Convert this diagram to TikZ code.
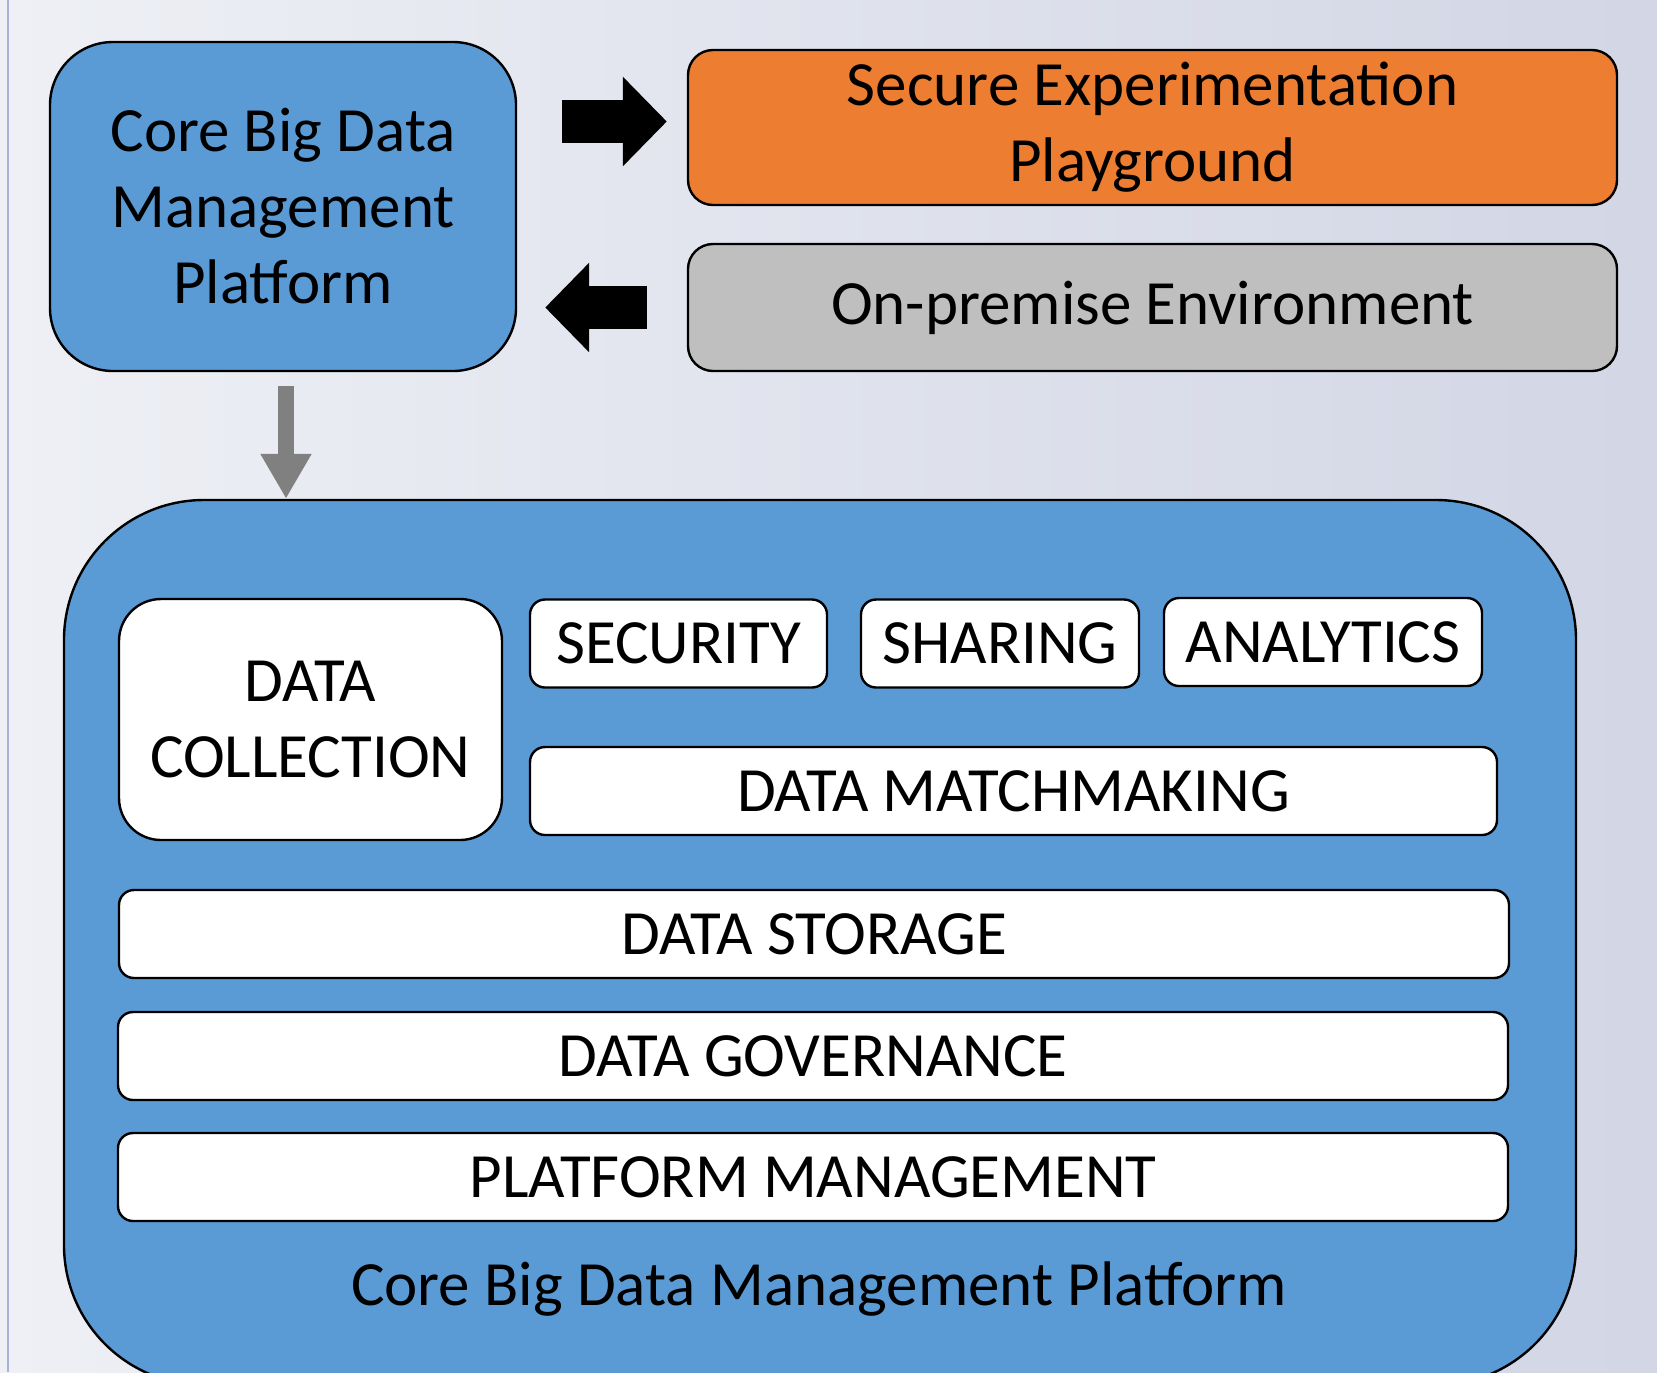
\documentclass[tikz,border=0pt]{standalone}
\usepackage{fontspec}
\setmainfont{Carlito}
\usetikzlibrary{arrows.meta,positioning}

\definecolor{coreblue}{HTML}{5B9BD5}
\definecolor{playorange}{HTML}{ED7D31}
\definecolor{premgray}{HTML}{BFBFBF}
\definecolor{arrgray}{HTML}{808080}
\definecolor{bgleft}{HTML}{EEF0F5}
\definecolor{bgright}{HTML}{D2D6E5}
\definecolor{edgeline}{HTML}{A9B3D8}

\begin{document}
\begin{tikzpicture}[x=0.5pt,y=-0.5pt,semithick,
    every node/.style={font=\fontsize{31.5}{38}\selectfont,align=center,inner sep=0pt},
    box/.style={draw=black,line width=1.2pt,rectangle},
    layer/.style={box,fill=white,rounded corners=7.5pt,minimum height=44pt},
    blockarr/.style={line width=21.5pt,-{Triangle[length=22pt,width=43.5pt]}},
    downarr/.style={line width=8pt,arrgray,-{Triangle[length=22.5pt,width=24pt]}}]

    % background
    \useasboundingbox (0,0) rectangle (1657,1372);
    \clip (0,0) rectangle (1657,1372);
    \shade[left color=bgleft,right color=bgright] (0,0) rectangle (1657,1372);
    \draw[edgeline,line width=0.8pt] (8,0) -- (8,1372);

    % top row
    \node[box,fill=coreblue,rounded corners=31.5pt,minimum width=233pt,minimum height=164.5pt]
        (core) at (283,206.5) {Core Big Data\\Management\\Platform};
    \node[box,fill=playorange,rounded corners=12.5pt,minimum width=464.5pt,minimum height=77.5pt]
        (play) at (1152.5,127.5) {Secure Experimentation\\Playground};
    \node[box,fill=premgray,rounded corners=12.5pt,minimum width=464.5pt,minimum height=63.5pt]
        (prem) at (1152.5,307.5) {On-premise Environment};

    % platform
    \node[box,fill=coreblue,rounded corners=70pt,minimum width=756pt,minimum height=442.5pt]
        (plat) at (820,942.5) {};
    \node[box,fill=white,rounded corners=21pt,minimum width=191.5pt,minimum height=120.5pt]
        (coll) at (310.5,719.5) {DATA\\COLLECTION};
    \node[layer,minimum width=148.5pt] (sec)  at (678.5,643.5) {SECURITY};
    \node[layer,minimum width=139pt]   (shar) at (1000,643.5)  {SHARING};
    \node[layer,minimum width=159pt]   (ana)  at (1323,642)    {ANALYTICS};
    \node[layer,minimum width=483.5pt] (match) at (1013.5,791) {DATA MATCHMAKING};
    \node[layer,minimum width=695pt]   (stor) at (814,934)     {DATA STORAGE};
    \node[layer,minimum width=695pt]   (gov)  at (813,1056)    {DATA GOVERNANCE};
    \node[layer,minimum width=695pt]   (pm)   at (813,1177)    {PLATFORM MANAGEMENT};
    \node (platlbl) at (819,1289) {Core Big Data Management Platform};

    % arrows
    \draw[blockarr] ([xshift=-62.5pt,yshift=3pt]play.west) -- ([xshift=-10pt,yshift=3pt]play.west);
    \draw[blockarr] ([xshift=-20pt]prem.west) -- ([xshift=14pt]core.east |- prem.west);
    \draw[downarr] ([xshift=1.5pt,yshift=-7pt]core.south) -- ([xshift=1.5pt]core.south |- plat.north);
\end{tikzpicture}
\end{document}
